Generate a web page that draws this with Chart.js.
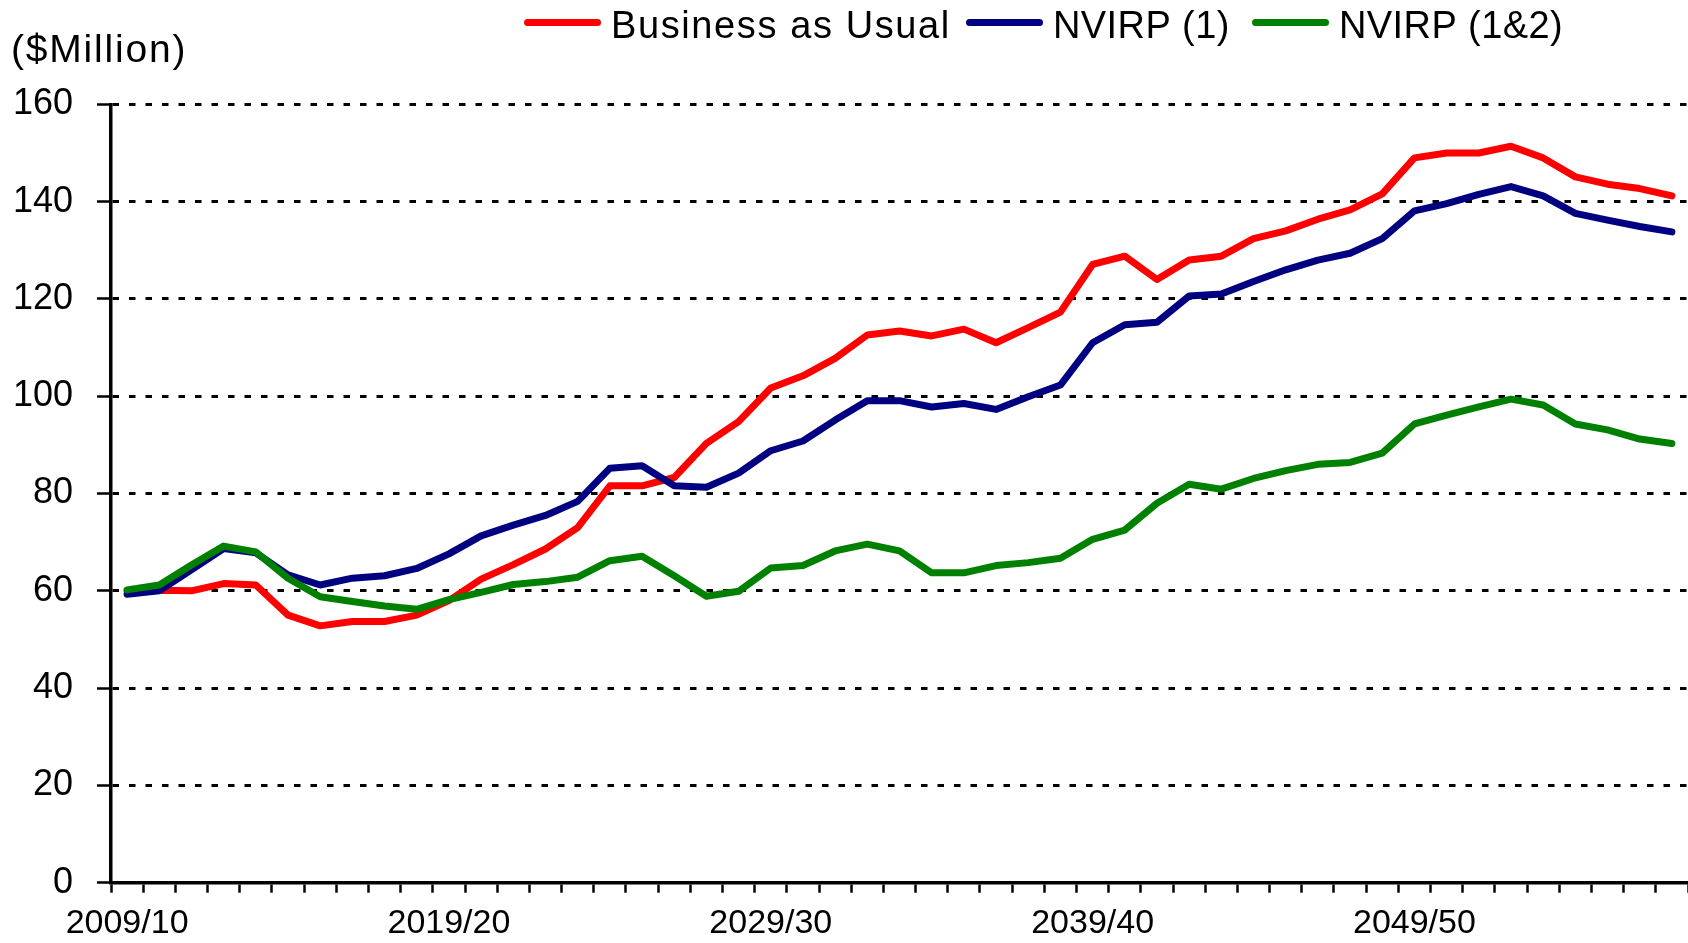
<!DOCTYPE html>
<html>
<head>
<meta charset="utf-8">
<script src="https://cdn.jsdelivr.net/npm/chart.js@4.4.1/dist/chart.umd.min.js"></script>
<style>
html, body { margin: 0; padding: 0; background: #ffffff; }
canvas { display: block; }
</style>
</head>
<body>
<canvas id="chart" width="1688" height="943"></canvas>
<script>
const categories = [
  '2009/10','2010/11','2011/12','2012/13','2013/14','2014/15','2015/16','2016/17','2017/18','2018/19',
  '2019/20','2020/21','2021/22','2022/23','2023/24','2024/25','2025/26','2026/27','2027/28','2028/29',
  '2029/30','2030/31','2031/32','2032/33','2033/34','2034/35','2035/36','2036/37','2037/38','2038/39',
  '2039/40','2040/41','2041/42','2042/43','2043/44','2044/45','2045/46','2046/47','2047/48','2048/49',
  '2049/50','2050/51','2051/52','2052/53','2053/54','2054/55','2055/56','2056/57','2057/58'
];

const businessAsUsual = [
  60.0, 60.1, 60.0, 61.5, 61.2, 55.0, 52.8, 53.7, 53.7, 55.0,
  58.0, 62.4, 65.4, 68.6, 73.0, 81.6, 81.6, 83.3, 90.3, 94.8,
  101.7, 104.2, 107.8, 112.6, 113.4, 112.4, 113.8, 111.0, 114.1, 117.3,
  127.1, 128.8, 124.0, 128.0, 128.8, 132.4, 134.0, 136.4, 138.3, 141.6,
  149.0, 150.0, 150.0, 151.4, 149.0, 145.1, 143.6, 142.7, 141.2
];

const nvirp1 = [
  59.3, 60.0, 64.3, 68.7, 67.8, 63.3, 61.2, 62.6, 63.1, 64.6,
  67.6, 71.3, 73.5, 75.5, 78.4, 85.2, 85.7, 81.6, 81.3, 84.2,
  88.8, 90.8, 95.1, 99.1, 99.1, 97.8, 98.5, 97.3, 99.9, 102.3,
  111.0, 114.7, 115.2, 120.6, 121.0, 123.6, 126.0, 128.0, 129.4, 132.4,
  138.1, 139.6, 141.5, 143.1, 141.2, 137.6, 136.2, 134.9, 133.8
];

const nvirp12 = [
  60.2, 61.2, 65.3, 69.2, 68.0, 62.6, 58.8, 57.8, 56.9, 56.2,
  58.2, 59.7, 61.3, 61.9, 62.8, 66.2, 67.1, 63.1, 58.9, 59.9,
  64.7, 65.2, 68.2, 69.6, 68.2, 63.7, 63.7, 65.2, 65.8, 66.7,
  70.6, 72.5, 78.0, 81.9, 80.9, 83.1, 84.7, 86.0, 86.4, 88.3,
  94.3, 96.1, 97.8, 99.4, 98.2, 94.3, 93.1, 91.2, 90.3
];

const seriesNames = ['Business as Usual', 'NVIRP (1)', 'NVIRP (1&2)'];
const seriesColors = ['#FF0000', '#000080', '#008000'];
const xTickLabels = ['2009/10', '2019/20', '2029/30', '2039/40', '2049/50'];
const yTickValues = [0, 20, 40, 60, 80, 100, 120, 140, 160];
const unitLabel = '($Million)';

const FONT = '"Liberation Sans", Arial, Helvetica, sans-serif';

// legend item start positions (line start, px)
const legendStarts = [524, 966, 1252];

const headerPlugin = {
  id: 'header',
  afterDraw(chart) {
    const ctx = chart.ctx;
    ctx.save();
    ctx.fillStyle = '#000000';
    ctx.textAlign = 'left';
    ctx.textBaseline = 'alphabetic';
    ctx.font = '39px ' + FONT;
    if ('letterSpacing' in ctx) ctx.letterSpacing = '1.8px';
    ctx.fillText(unitLabel, 11, 62);

    ctx.font = '38px ' + FONT;
    const lineY = 22.5;
    chart.data.datasets.forEach((ds, i) => {
      const x = legendStarts[i];
      ctx.strokeStyle = ds.borderColor;
      ctx.lineWidth = 7;
      ctx.lineCap = 'round';
      ctx.beginPath();
      ctx.moveTo(x + 3.5, lineY);
      ctx.lineTo(x + 77 - 3.5, lineY);
      ctx.stroke();
      ctx.letterSpacing = i === 0 ? '1.6px' : '0.4px';
      ctx.fillText(ds.label, x + 87, 37.5);
    });
    ctx.restore();
  }
};

const seriesValues = [businessAsUsual, nvirp1, nvirp12];
const drawOrder = [3, 2, 1];

new Chart(document.getElementById('chart'), {
  type: 'line',
  data: {
    labels: categories,
    datasets: seriesValues.map((vals, i) => ({
      label: seriesNames[i],
      data: vals,
      borderColor: seriesColors[i],
      backgroundColor: seriesColors[i],
      borderWidth: 7,
      pointRadius: 0,
      pointHoverRadius: 0,
      tension: 0,
      fill: false,
      borderCapStyle: 'round',
      borderJoinStyle: 'round',
      order: drawOrder[i]
    }))
  },
  options: {
    responsive: false,
    animation: false,
    devicePixelRatio: 1,
    layout: { padding: { top: 104.4, left: 0, right: 0, bottom: 0 } },
    plugins: {
      legend: { display: false },
      title: { display: false },
      tooltip: { enabled: false }
    },
    scales: {
      x: {
        type: 'category',
        offset: true,
        grid: {
          offset: true,
          drawOnChartArea: false,
          drawTicks: true,
          tickLength: 10,
          tickWidth: 2.5,
          tickColor: '#000000'
        },
        border: { display: true, color: '#000000', width: 3.5 },
        ticks: {
          autoSkip: false,
          maxRotation: 0,
          minRotation: 0,
          padding: 11,
          color: '#000000',
          font: { family: FONT, size: 34 },
          callback: function (value, index) {
            const lab = categories[index];
            return xTickLabels.includes(lab) ? lab : '';
          }
        },
        afterFit: function (scale) { scale.height = 60.3; }
      },
      y: {
        min: 0,
        max: 160,
        afterBuildTicks: function (scale) {
          scale.ticks = yTickValues.map(v => ({ value: v }));
        },
        grid: {
          color: '#000000',
          lineWidth: 3,
          drawTicks: true,
          tickLength: 14,
          tickWidth: 2.5,
          tickColor: '#000000',
          tickBorderDash: []
        },
        border: { display: true, color: '#000000', width: 3.5, dash: [6.5, 10] },
        ticks: {
          padding: 24,
          color: '#000000',
          font: { family: FONT, size: 36 }
        },
        afterFit: function (scale) { scale.width = 111; }
      }
    }
  },
  plugins: [headerPlugin]
});
</script>
</body>
</html>
